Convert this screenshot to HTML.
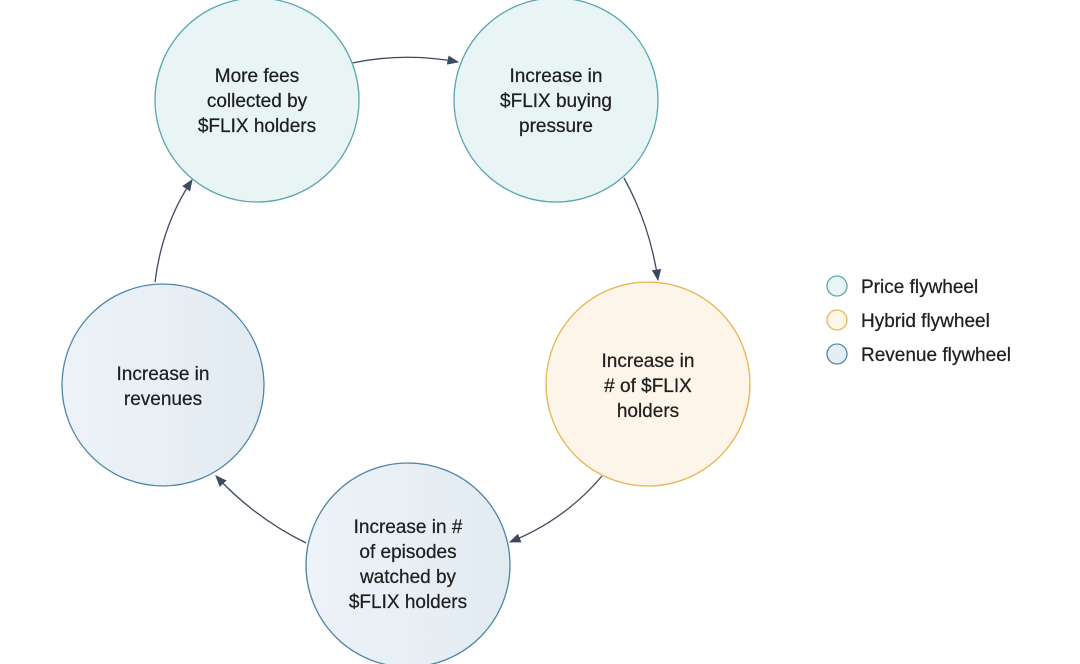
<!DOCTYPE html>
<html><head><style>
body{margin:0;background:#fff;}
svg{display:block;font-family:"Liberation Sans",sans-serif;}
text{fill:#1f1f1f;font-size:19px;text-anchor:middle;stroke:#1f1f1f;stroke-width:0.25;}
</style></head><body>
<svg width="1080" height="664" viewBox="0 0 1080 664">
<defs>
<marker id="a" viewBox="0 0 10 10" refX="9" refY="5" markerWidth="9" markerHeight="9" orient="auto"><path d="M0,1 L10,5 L0,9 z" fill="#3d4a5e"/></marker>
<linearGradient id="rv" x1="0" x2="1"><stop offset="0" stop-color="#edf3f8"/><stop offset="1" stop-color="#e2ebf2"/></linearGradient>
</defs>
<g fill="none" stroke="#3d4a5e" stroke-width="1.3" marker-end="url(#a)">
<path d="M352,63 Q405,52 458,62"/>
<path d="M624,178 Q650,225 658,280"/>
<path d="M602,476 Q565,520 510,542"/>
<path d="M306,543 Q255,518 216,476"/>
<path d="M155,282 Q162,225 192,180"/>
</g>
<circle cx="257" cy="100" r="102" fill="#e9f5f5" stroke="#5aa7b0" stroke-width="1.3"/>
<circle cx="556" cy="100" r="102" fill="#e9f5f5" stroke="#5aa7b0" stroke-width="1.3"/>
<circle cx="648" cy="384" r="102" fill="#fdf5e9" stroke="#e6b650" stroke-width="1.3"/>
<circle cx="408" cy="565" r="102" fill="url(#rv)" stroke="#4f86a8" stroke-width="1.3"/>
<circle cx="163" cy="385" r="101" fill="url(#rv)" stroke="#4f86a8" stroke-width="1.3"/>
<text x="257" y="82">More fees</text><text x="257" y="107">collected by</text><text x="257" y="132">$FLIX holders</text>
<text x="556" y="82">Increase in</text><text x="556" y="107">$FLIX buying</text><text x="556" y="132">pressure</text>
<text x="648" y="367">Increase in</text><text x="648" y="392"># of $FLIX</text><text x="648" y="417">holders</text>
<text x="408" y="533">Increase in #</text><text x="408" y="558">of episodes</text><text x="408" y="583">watched by</text><text x="408" y="608">$FLIX holders</text>
<text x="163" y="380">Increase in</text><text x="163" y="405">revenues</text>
<circle cx="837" cy="286" r="10" fill="#e9f5f5" stroke="#5aa7b0" stroke-width="1.3"/>
<circle cx="837" cy="320" r="10" fill="#fdf5e9" stroke="#e6b650" stroke-width="1.3"/>
<circle cx="837" cy="354" r="10" fill="#e6eef5" stroke="#4f86a8" stroke-width="1.3"/>
<text x="861" y="293" style="text-anchor:start">Price flywheel</text>
<text x="861" y="327" style="text-anchor:start">Hybrid flywheel</text>
<text x="861" y="361" style="text-anchor:start">Revenue flywheel</text>
</svg>
</body></html>
